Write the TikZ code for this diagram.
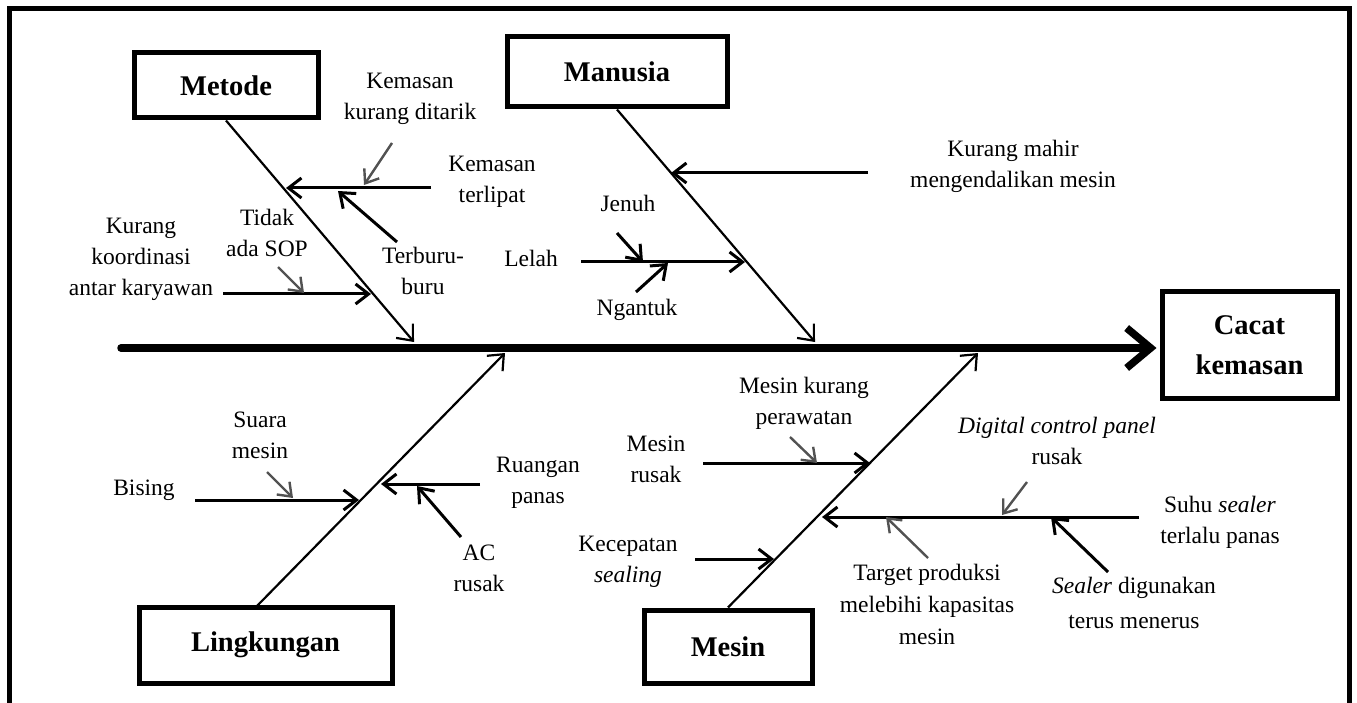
\documentclass[tikz,border=0pt]{standalone}
\usepackage{fontspec}
\setmainfont{Liberation Serif}
\usetikzlibrary{arrows.meta}
\begin{document}
\begin{tikzpicture}[x=1pt,y=-1pt,
  frame/.style={line width=5pt,line cap=rect},
  catbox/.style={draw,line width=5pt,inner sep=0pt,font=\fontsize{28.5}{40}\selectfont\bfseries,align=center},
  lbl/.style={inner sep=0pt,align=center,font=\fontsize{23.5}{31}\selectfont},
  bone/.style={line width=2.2pt,-{Straight Barb[length=13pt,width=22pt]}},
  sub/.style={line width=3pt,-{Straight Barb[length=13pt,width=20pt]}},
  subgray/.style={line width=2.4pt,draw=black!68,-{Straight Barb[length=12pt,width=18pt]}},
  spine/.style={line width=7.5pt,line cap=round,-{Straight Barb[length=24pt,width=40pt]}}]
\useasboundingbox (0,0) rectangle (1357,703);
% frame (open at the bottom)
\draw[frame] (9,703) -- (9,9) -- (1349,9) -- (1349,703);
% category boxes
\node[catbox,minimum width=184pt,minimum height=65pt] (metode) at (226,85.5) {Metode};
\node[catbox,minimum width=220pt,minimum height=70pt] (manusia) at (617,72) {Manusia};
\node[catbox,minimum width=253pt,minimum height=76pt] (ling) at (265.5,645) {Lingkungan};
\node[catbox,minimum width=168pt,minimum height=73pt] (mesin) at (728,646.5) {Mesin};
\node[catbox,minimum width=175pt,minimum height=106pt] (cacat) at (1249.5,345) {Cacat\\kemasan};
% spine
\coordinate (spS) at (121,348);
\draw[spine,shorten >=3pt] (spS) -- (spS -| cacat.west);
% main bones
\coordinate (metT) at (414,342);
\coordinate (manT) at (815,342);
\coordinate (linS) at (256,607);
\coordinate (linT) at (505,353);
\coordinate (mesT) at (978,353);
\draw[bone] (metode.south) -- (metT);
\draw[bone] (manusia.south) -- (manT);
\draw[bone] (linS) -- (linT);
\draw[bone] (mesin.north) -- (mesT);
% sub-cause arrow ends
\coordinate (a1s) at (431,188);  \coordinate (a1t) at (286,188);
\coordinate (a2s) at (392,143);  \coordinate (a2t) at (364,185);
\coordinate (a3s) at (397,242);  \coordinate (a3t) at (338,191);
\coordinate (a4s) at (223,294);  \coordinate (a4t) at (371,294);
\coordinate (a5s) at (278,267);  \coordinate (a5t) at (304,293);
\coordinate (a6s) at (868,173);  \coordinate (a6t) at (671,173);
\coordinate (a7s) at (581,262);  \coordinate (a7t) at (745,262);
\coordinate (a8s) at (617,233);  \coordinate (a8t) at (643,262);
\coordinate (a9s) at (636,292);  \coordinate (a9t) at (668,263);
\coordinate (b1s) at (195,500);  \coordinate (b1t) at (359,500);
\coordinate (b2s) at (267,472);  \coordinate (b2t) at (293,498);
\coordinate (b3s) at (480,484);  \coordinate (b3t) at (381,484);
\coordinate (b4s) at (461,537);  \coordinate (b4t) at (417,486);
\coordinate (c1s) at (703,463);  \coordinate (c1t) at (870,463);
\coordinate (c2s) at (790,437);  \coordinate (c2t) at (817,463);
\coordinate (c3s) at (695,559);  \coordinate (c3t) at (774,559);
\coordinate (c4s) at (1139,517); \coordinate (c4t) at (822,517);
\coordinate (c5s) at (1027,482); \coordinate (c5t) at (1002,515);
\coordinate (c6s) at (928,558);  \coordinate (c6t) at (886,517);
\coordinate (c7s) at (1108,572); \coordinate (c7t) at (1051,517);
\draw[sub] (a1s) -- (a1t);
\draw[subgray] (a2s) -- (a2t);
\draw[sub] (a3s) -- (a3t);
\draw[sub] (a4s) -- (a4t);
\draw[subgray] (a5s) -- (a5t);
\draw[sub] (a6s) -- (a6t);
\draw[sub] (a7s) -- (a7t);
\draw[sub] (a8s) -- (a8t);
\draw[sub] (a9s) -- (a9t);
\draw[sub] (b1s) -- (b1t);
\draw[subgray] (b2s) -- (b2t);
\draw[sub] (b3s) -- (b3t);
\draw[sub] (b4s) -- (b4t);
\draw[sub] (c1s) -- (c1t);
\draw[subgray] (c2s) -- (c2t);
\draw[sub] (c3s) -- (c3t);
\draw[sub] (c4s) -- (c4t);
\draw[subgray] (c5s) -- (c5t);
\draw[subgray] (c6s) -- (c6t);
\draw[sub] (c7s) -- (c7t);
% labels
\node[lbl] (tkd) at (410,99) {Kemasan\\kurang ditarik};
\node[lbl] (tkt) at (492,182) {Kemasan\\terlipat};
\node[lbl] (tsop) at (267,233) {Tidak\\ada SOP};
\node[lbl] (tkoord) at (141,259) {Kurang\\koordinasi\\antar karyawan};
\node[lbl] (tterb) at (423,271) {Terburu-\\buru};
\node[lbl] (tjenuh) at (628,203) {Jenuh};
\node[lbl] (tlelah) at (531,258) {Lelah};
\node[lbl] (tngantuk) at (637,310) {Ngantuk};
\node[lbl] (tmahir) at (1013,166) {Kurang mahir\\mengendalikan mesin};
\node[lbl] (tsuara) at (260,435) {Suara\\mesin};
\node[lbl] (tbising) at (144,490) {Bising};
\node[lbl] (truang) at (538,483) {Ruangan\\panas};
\node[lbl] (tac) at (479,568) {AC\\rusak};
\node[lbl] (tkec) at (628,562) {Kecepatan\\\textit{sealing}};
\node[lbl] (tmkp) at (804,403) {Mesin kurang\\perawatan};
\node[lbl] (tmr) at (656,459) {Mesin\\rusak};
\node[lbl] (tdig) at (1057,441) {\textit{Digital control panel}\\rusak};
\node[lbl] (tsuhu) at (1220,522) {Suhu \textit{sealer}\\terlalu panas};
\node[lbl,font=\fontsize{23.5}{32}\selectfont] (ttarget) at (927,604) {Target produksi\\melebihi kapasitas\\mesin};
\node[lbl,font=\fontsize{23.5}{35}\selectfont] (tsealer) at (1134,603) {\textit{Sealer} digunakan\\terus menerus};
\end{tikzpicture}
\end{document}
